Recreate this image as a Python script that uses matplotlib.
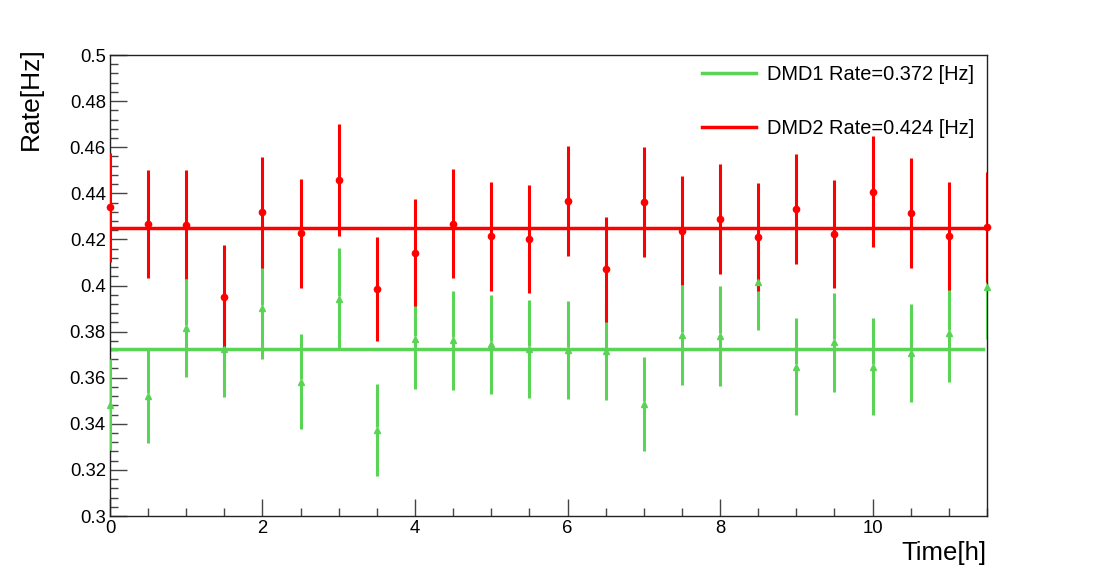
import numpy as np
import matplotlib
matplotlib.use('Agg')
import matplotlib.pyplot as plt
from matplotlib.ticker import MultipleLocator

plt.rcParams['font.family'] = ['Liberation Sans', 'DejaVu Sans']

# time bins [h]
time = [0, 0.5, 1, 1.5, 2, 2.5, 3, 3.5, 4, 4.5, 5, 5.5, 6, 6.5, 7, 7.5,
        8, 8.5, 9, 9.5, 10, 10.5, 11, 11.5]

# DMD1 rates and errors
rate1 = [0.3483, 0.3522, 0.3816, 0.3723, 0.3901, 0.3582, 0.3942, 0.3373,
         0.3770, 0.3763, 0.3745, 0.3724, 0.3720, 0.3715, 0.3486, 0.3785,
         0.3781, 0.4015, 0.3648, 0.3754, 0.3648, 0.3706, 0.3793, 0.3995]
err1 = [0.0197, 0.0206, 0.0212, 0.0208, 0.0220, 0.0206, 0.0222, 0.0200,
        0.0217, 0.0215, 0.0215, 0.0213, 0.0214, 0.0210, 0.0203, 0.0217,
        0.0216, 0.0210, 0.0210, 0.0215, 0.0210, 0.0212, 0.0213, 0.0228]

# DMD2 rates and errors
rate2 = [0.4339, 0.4268, 0.4264, 0.3951, 0.4318, 0.4226, 0.4456, 0.3985,
         0.4143, 0.4268, 0.4213, 0.4203, 0.4367, 0.4070, 0.4364, 0.4238,
         0.4290, 0.4209, 0.4331, 0.4223, 0.4407, 0.4316, 0.4216, 0.4255]
err2 = [0.0237, 0.0235, 0.0236, 0.0224, 0.0240, 0.0235, 0.0243, 0.0224,
        0.0231, 0.0236, 0.0235, 0.0235, 0.0240, 0.0228, 0.0239, 0.0235,
        0.0238, 0.0235, 0.0238, 0.0235, 0.0242, 0.0238, 0.0235, 0.0238]

# constant fits
fit1 = 0.3726
fit2 = 0.4248
fit_label1 = 'DMD1 Rate=0.372 [Hz]'
fit_label2 = 'DMD2 Rate=0.424 [Hz]'
fit_range1 = [0, 11.45]
fit_range2 = [0, 11.5]

green = '#59d454'
red = '#ff0000'

fig = plt.figure(figsize=(11.04, 5.79), dpi=100)
ax = fig.add_axes([0.0996, 0.1088, 0.7944, 0.7962])

t = np.array(time)
gap = 0.0013


def draw(y, e, col, mk, ms):
    y = np.array(y)
    e = np.array(e)
    ax.vlines(t, y - e, y - gap, color=col, lw=2.2, zorder=3)
    ax.vlines(t, y + gap, y + e, color=col, lw=2.2, zorder=3)
    ax.plot(t, y, ls='none', marker=mk, ms=ms, color=col, mec=col, zorder=4, clip_on=False)


draw(rate1, err1, green, '^', 4.5)
ax.plot(fit_range1, [fit1, fit1], color=green, lw=2.5, zorder=2, label=fit_label1)
draw(rate2, err2, red, 'o', 4.5)
ax.plot(fit_range2, [fit2, fit2], color=red, lw=2.5, zorder=5, label=fit_label2)

ax.set_xlim(0, 11.5)
ax.set_ylim(0.3, 0.5)

ax.xaxis.set_major_locator(MultipleLocator(2))
ax.xaxis.set_minor_locator(MultipleLocator(0.5))
ax.yaxis.set_major_locator(MultipleLocator(0.02))
ax.yaxis.set_minor_locator(MultipleLocator(0.004))
ax.yaxis.set_major_formatter(plt.FuncFormatter(lambda v, p: ('%g' % round(v, 3))))
ax.tick_params(which='both', direction='in', top=False, right=False, labelsize=13.3, color='#444444')
ax.tick_params(which='major', length=12, width=1)
ax.tick_params(which='minor', length=6, width=1)
ax.tick_params(axis='x', pad=3)
ax.tick_params(axis='y', pad=3)
for sp in ax.spines.values():
    sp.set_linewidth(1)
    sp.set_color('#222222')

fig.text(0.017, 0.918, 'Rate[Hz]', rotation=90, ha='left', va='top', fontsize=19)
fig.text(0.894, 0.045, 'Time[h]', ha='right', va='center', fontsize=18.5)

handles, labels = ax.get_legend_handles_labels()
leg = ax.legend(handles, labels, loc='upper right', bbox_to_anchor=(0.996, 0.998),
                frameon=False, fontsize=14.4, handlelength=2.7, handletextpad=0.55,
                labelspacing=1.75, borderaxespad=0.15, borderpad=0.3)

fig.savefig('out.png', dpi=100)
